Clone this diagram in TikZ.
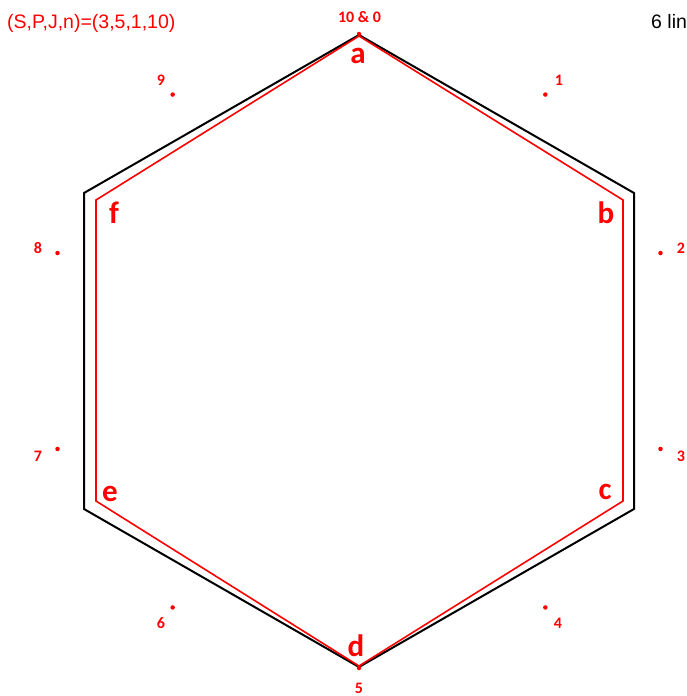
\documentclass[tikz,border=0pt]{standalone}
\usepackage{fontspec}
\setmainfont{Liberation Sans}
\newfontfamily\labelfont{Carlito}
\usetikzlibrary{calc}
\definecolor{hexred}{RGB}{255,0,0}

\begin{document}
\begin{tikzpicture}[x=1pt, y=-1pt,
    every node/.style={inner sep=0pt, anchor=base},
    vertexlabel/.style={text=hexred, font=\labelfont\fontsize{31}{31}\selectfont\bfseries},
    dotlabel/.style={text=hexred, font=\labelfont\fontsize{16}{16}\selectfont\bfseries},
    dotmark/.style={circle, fill=hexred, minimum size=4.5pt, anchor=center}]
    \useasboundingbox (0,0) rectangle (686,696);

    % outer (black) hexagon
    \coordinate (A) at (359,35);
    \coordinate (B) at (634,193);
    \coordinate (C) at (634,509);
    \coordinate (D) at (359,667);
    \coordinate (E) at (84,509);
    \coordinate (F) at (84,193);
    \draw[black, line width=2pt, line join=miter] (A) -- (B) -- (C) -- (D) -- (E) -- (F) -- cycle;

    % inner (red) hexagon
    \coordinate (ra) at (359,36);
    \coordinate (rb) at (623,200);
    \coordinate (rc) at (623,501);
    \coordinate (rd) at (359,666);
    \coordinate (re) at (96,501);
    \coordinate (rf) at (96,200);
    \draw[hexred, line width=1.6pt] (ra) -- (rb) -- (rc) -- (rd) -- (re) -- (rf) -- cycle;

    % ten points on the circle
    \foreach \k in {0,...,9}
        \node[dotmark] (p\k) at ({359+317*sin(36*\k)}, {351-317*cos(36*\k)}) {};

    \node[dotlabel] (l0) at (359.5,22) {10 \& 0};
    \node[dotlabel] (l1) at (559,85) {1};
    \node[dotlabel] (l2) at (681,253) {2};
    \node[dotlabel] (l3) at (681,461) {3};
    \node[dotlabel] (l4) at (558,628) {4};
    \node[dotlabel] (l5) at (359,693) {5};
    \node[dotlabel] (l6) at (161,628) {6};
    \node[dotlabel] (l7) at (38,461) {7};
    \node[dotlabel] (l8) at (38,253) {8};
    \node[dotlabel] (l9) at (161,85) {9};

    \node[vertexlabel] (la) at (358,63) {a};
    \node[vertexlabel] (lb) at (606,223) {b};
    \node[vertexlabel] (lc) at (605,499) {c};
    \node[vertexlabel] (ld) at (356,656) {d};
    \node[vertexlabel] (le) at (110,501) {e};
    \node[vertexlabel] (lf) at (114,223) {f};

    \node[text=hexred, font=\fontsize{19.5}{19.5}\selectfont, anchor=base west] (title) at (7,28) {(S,P,J,n)=(3,5,1,10)};
    \node[text=black, font=\fontsize{19.5}{19.5}\selectfont, anchor=base west] (lines) at (651,28) {6 lin};
\end{tikzpicture}
\end{document}
